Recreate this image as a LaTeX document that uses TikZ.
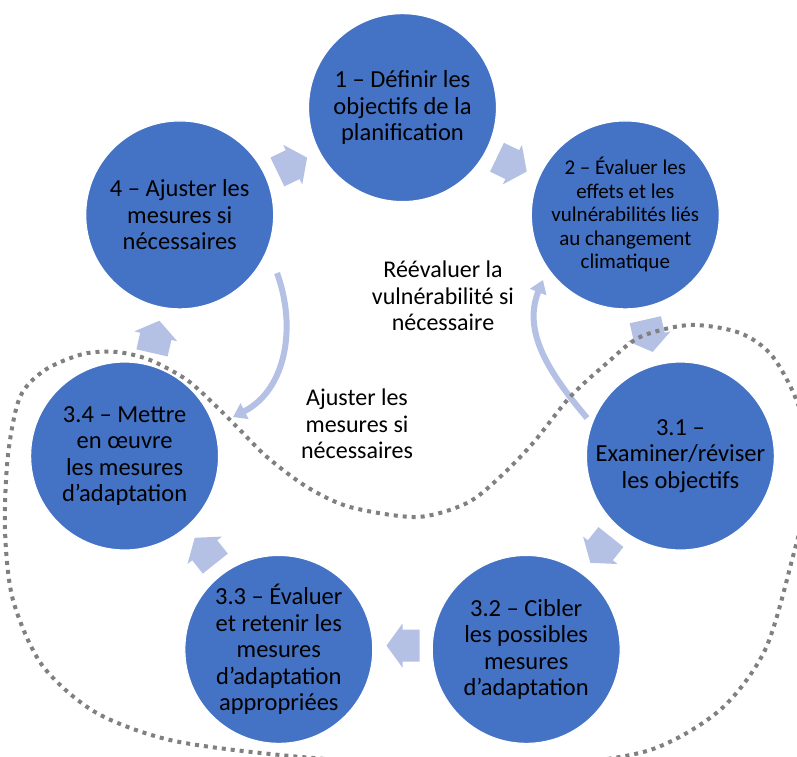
\documentclass[tikz,border=0pt]{standalone}
\usepackage{fontspec}
\setmainfont{Carlito}
\usetikzlibrary{arrows.meta}
\definecolor{cblue}{RGB}{68,114,196}
\definecolor{lblue}{RGB}{180,193,228}
\definecolor{dotgray}{RGB}{128,128,128}
\begin{document}
\begin{tikzpicture}[x=1pt,y=-1pt,
  stage/.style={circle, fill=cblue, draw=white, line width=1.2pt, minimum size=188pt, inner sep=0pt, align=center, text=black, font=\fontsize{24.5}{26.5}\selectfont},
  smallstage/.style={stage, font=\fontsize{21}{23.5}\selectfont},
  chev/.style={fill=lblue, draw=none},
  loopflow/.style={draw=lblue, line width=6pt, -{Triangle[width=17pt,length=13pt]}},
  note/.style={align=center, text=black, font=\fontsize{24}{26.5}\selectfont},
  boundary/.style={draw=dotgray, line width=4pt, dash pattern=on 4pt off 5pt}
]
\useasboundingbox (0,0) rectangle (797,756);
\fill[white] (0,0) rectangle (797,756);

% stages (on a ring of radius 285 around (402.5,392.6))
\node[stage] (s1) at (402.5,107.6) {1 – Définir les\\objectifs de la\\planification};
\node[smallstage] (s2) at (625.3,214.9) {2 – Évaluer les\\effets et les\\vulnérabilités liés\\au changement\\climatique};
\node[stage] (s31) at (680.4,456.0) {3.1 –\\Examiner/réviser\\les objectifs};
\node[stage] (s32) at (526.2,649.4) {3.2 – Cibler\\les possibles\\mesures\\d’adaptation};
\node[stage] (s33) at (278.8,649.4) {3.3 – Évaluer\\et retenir les\\mesures\\d’adaptation\\appropriées};
\node[stage] (s34) at (124.6,456.0) {3.4 – Mettre\\en œuvre\\les mesures\\d’adaptation};
\node[stage] (s4) at (179.7,214.9) {4 – Ajuster les\\mesures si\\nécessaires};

% block arrows between stages
\newcommand\blockarrow[3]{%
  \fill[chev, shift={(#1,#2)}, rotate=#3]
    (-17,-16) -- (0,-16) -- (0,-22) -- (16,0) -- (0,22) -- (0,16) -- (-17,16) -- cycle;}
\blockarrow{512.3}{164.6}{-25.7}
\blockarrow{649.1}{336.3}{-77.1}
\blockarrow{600.3}{550.3}{-128.6}
\blockarrow{402.5}{645.6}{180}
\blockarrow{204.7}{550.3}{128.6}
\blockarrow{155.8}{336.3}{77.1}
\blockarrow{292.7}{164.6}{25.7}

% inner loops
\coordinate (r1) at (587,418);
\coordinate (r2) at (543,280);
\draw[loopflow] (r1) to[out=130,in=248] (r2);
\coordinate (j1) at (277,273);
\coordinate (j2) at (233,417);
\draw[loopflow] (j1) to[out=-70,in=27] (j2);

\node[note] (t1) at (443,296) {Réévaluer la\\vulnérabilité si\\nécessaire};
\node[note] (t2) at (357,424) {Ajuster les\\mesures si\\nécessaires};

% dotted boundary
\begin{scope}
\clip (0,0) rectangle (797,756);
\draw[boundary] plot[smooth cycle] coordinates {
(20,397) (45,370) (83,354) (117,352) (150,360) (187,380) (217,407) (240,430)
(267,457) (307,487) (350,507) (417,517) (467,503) (500,477) (533,443) (570,397)
(607,363) (640,337) (690,325) (740,333) (773,357) (800,410) (810,480) (792,560)
(765,650) (720,710) (650,750) (550,765) (420,765) (280,755) (170,740) (95,712)
(42,665) (13,600) (5,530) (8,455)};
\end{scope}
\end{tikzpicture}
\end{document}
